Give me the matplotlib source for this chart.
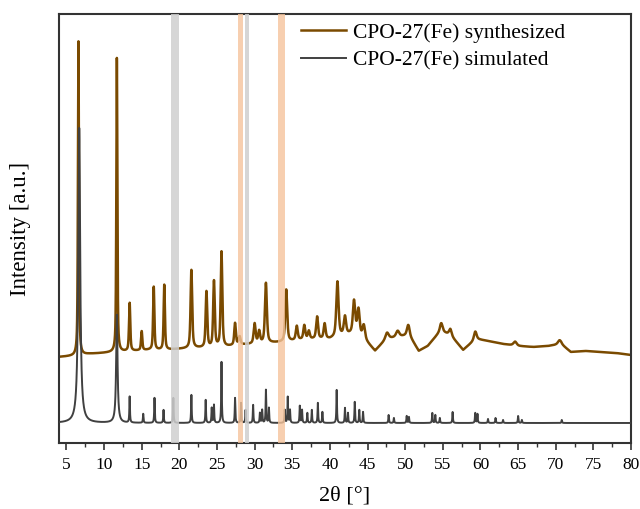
import numpy as np
import matplotlib
matplotlib.use("Agg")
import matplotlib.pyplot as plt
from matplotlib.ticker import MultipleLocator, NullLocator

plt.rcParams['font.family'] = ['Liberation Serif', 'DejaVu Serif']

# ---- data (2theta in degrees, intensity in arbitrary units) ----
# synthesized pattern: background points
syn_bg_x = [4, 6, 8, 10, 12, 14, 16, 18, 20, 22, 24, 26, 28, 30, 32, 34, 36, 38, 40,
            42, 43.5, 45, 46, 47.5, 49, 50.5, 51.8, 53, 54.7, 56, 57.7, 59.4, 61, 63,
            65, 67, 69, 70.7, 72, 74, 76, 78, 80]
syn_bg_y = [86, 87, 89, 90, 91, 92, 93, 93, 94, 95, 95, 96, 98, 99, 100, 101, 103, 104, 104,
            108, 110, 100, 92, 104, 106, 108, 92, 97, 112, 108, 93, 104, 102, 99,
            97, 96, 97, 99, 91, 92, 91, 90, 88]
# synthesized pattern: peaks (position, height above background, width)
syn_pk_x = [6.6, 11.7, 13.4, 15.0, 16.6, 18.0, 21.6, 23.6, 24.6, 25.6, 27.4, 28.0, 30.0,
            30.6, 31.5, 34.2, 35.6, 36.6, 37.2, 38.3, 39.3, 41.0, 42.0, 43.2, 43.8,
            44.5, 47.6, 49.0, 50.4, 54.8, 56.0, 59.3, 64.6, 70.5]
syn_pk_h = [314, 294, 48, 19, 63, 65, 78, 56, 66, 95, 22, 8, 20,
            12, 60, 52, 14, 14, 8, 22, 15, 55, 18, 32, 25,
            14, 6, 6, 10, 8, 6, 8, 4, 4]
syn_pk_w = [0.16, 0.16, 0.2, 0.2, 0.2, 0.2, 0.25, 0.25, 0.25, 0.25, 0.25, 0.3, 0.3,
            0.3, 0.3, 0.3, 0.3, 0.3, 0.3, 0.3, 0.3, 0.35, 0.35, 0.35, 0.35,
            0.4, 0.5, 0.5, 0.4, 0.4, 0.4, 0.4, 0.5, 0.5]

# simulated pattern: baseline and peaks
sim_base = 20
sim_pk_x = [6.7, 11.7, 13.4, 15.2, 16.7, 17.9, 19.2, 21.6, 23.5, 24.3, 24.6, 25.6, 27.4,
            28.2, 28.8, 29.8, 30.7, 31.0, 31.5, 31.9, 34.0, 34.4, 34.7, 36.0, 36.3,
            37.0, 37.6, 38.4, 39.0, 40.9, 42.0, 42.4, 43.3, 43.9, 44.4, 47.8, 48.5,
            50.2, 50.5, 53.6, 54.0, 54.6, 56.3, 59.3, 59.6, 61.0, 62.0, 63.0, 65.0,
            65.5, 70.8]
sim_pk_h = [295, 108, 26, 9, 25, 13, 25, 28, 23, 15, 18, 61, 25,
            20, 13, 18, 10, 13, 33, 15, 13, 26, 13, 17, 13,
            10, 13, 20, 11, 33, 15, 10, 21, 13, 11, 8, 5,
            7, 6, 10, 8, 5, 11, 10, 9, 4, 5, 3, 7,
            3, 3]
sim_pk_w = [0.30, 0.22] + [0.09] * (len(sim_pk_x) - 2)

band_gray = [(18.85, 19.9), (28.7, 29.2)]
band_orange = [(27.85, 28.4), (33.05, 34.0)]

labels = ["CPO-27(Fe) synthesized", "CPO-27(Fe) simulated"]

# ---- build profiles ----
x = np.linspace(4, 80, 15201)


def lor(x, c, h, w):
    g = w / 2.0
    return h * g * g / ((x - c) ** 2 + g * g)


syn = np.interp(x, syn_bg_x, syn_bg_y)
for c, h, w in zip(syn_pk_x, syn_pk_h, syn_pk_w):
    syn = syn + lor(x, c, h, w) * 0.6 + h * 0.4 * np.exp(-4 * np.log(2) * (x - c) ** 2 / w ** 2)

sim = np.full_like(x, float(sim_base))
for c, h, w in zip(sim_pk_x, sim_pk_h, sim_pk_w):
    sim = sim + lor(x, c, h, w)

# ---- plot ----
fig = plt.figure(figsize=(6.4, 5.09), dpi=100)
ax = fig.add_axes([0.092, 0.1297, 0.894, 0.8428])

ax.plot(x, syn, color='#7a4a00', lw=1.8, label=labels[0], zorder=2)
ax.plot(x, sim, color='#404040', lw=1.4, label=labels[1], zorder=3)

for a, b in band_gray:
    ax.axvspan(a, b, color='#cfcfcf', alpha=0.85, lw=0, zorder=4)
for a, b in band_orange:
    ax.axvspan(a, b, color='#f5c49c', alpha=0.8, lw=0, zorder=4)

ax.set_xlim(4, 80)
ax.set_ylim(0, 429)
ax.set_xticks(np.arange(5, 81, 5))
ax.xaxis.set_minor_locator(MultipleLocator(2.5))
ax.yaxis.set_major_locator(NullLocator())
ax.tick_params(axis='x', which='major', direction='out', length=5, width=1.2,
               labelsize=12.5, color='#333333', pad=5)
ax.tick_params(axis='x', which='minor', direction='out', length=3, width=1.0, color='#333333')
for s in ax.spines.values():
    s.set_linewidth(1.5)
    s.set_color('#333333')

ax.set_xlabel('2θ [°]', fontsize=16, labelpad=10)
ax.set_ylabel('Intensity [a.u.]', fontsize=16.5, labelpad=20)

leg = ax.legend(loc='upper right', frameon=False, fontsize=15.5, handlelength=2.1,
                borderaxespad=0.3, labelspacing=0.35, handletextpad=0.35,
                bbox_to_anchor=(0.912, 1.015))

fig.savefig('out.png', dpi=100)
